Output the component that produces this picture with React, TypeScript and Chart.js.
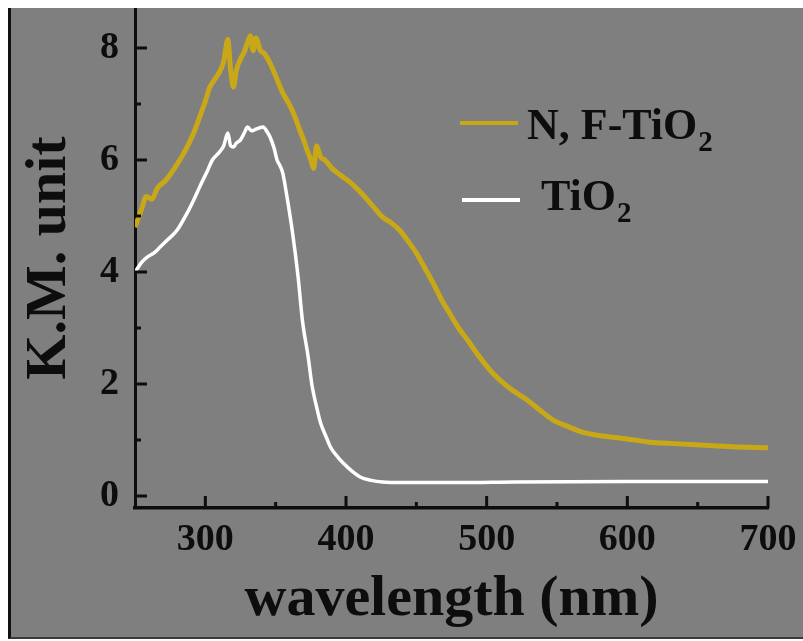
import React, { useEffect, useRef } from 'react';
import { Chart, registerables } from 'chart.js';

Chart.register(...registerables);

// ---- Data ----
const nfWavelengths = [
  250, 255, 258, 262, 266, 272, 278, 283, 287, 292, 296, 300, 303, 307, 310, 313, 316, 318, 320, 322,
  325, 328, 330, 332, 334, 336, 339, 342, 346, 350, 355, 360, 364, 367, 370, 372, 375, 377, 379, 382,
  385, 390, 395, 403, 412, 420, 426, 432, 438, 445, 450, 456, 462, 468, 474, 480, 486, 495, 504, 515,
  529, 538, 547, 558, 568, 580, 593, 605, 616, 630, 652, 675, 700,
];
const nfValues = [
  4.8, 5.15, 5.35, 5.3, 5.5, 5.64, 5.85, 6.05, 6.23, 6.5, 6.77, 7.05, 7.29, 7.45, 7.57, 7.75, 8.15, 7.6, 7.3, 7.6,
  7.8, 7.95, 8.1, 8.22, 7.95, 8.18, 7.96, 7.9, 7.73, 7.5, 7.2, 6.98, 6.75, 6.54, 6.35, 6.2, 6.0, 5.85, 6.25, 6.05,
  6.0, 5.85, 5.75, 5.6, 5.38, 5.15, 4.98, 4.88, 4.75, 4.52, 4.34, 4.07, 3.8, 3.5, 3.25, 3.0, 2.8, 2.48, 2.2, 1.95,
  1.71, 1.53, 1.36, 1.24, 1.14, 1.08, 1.04, 1.0, 0.96, 0.94, 0.91, 0.88, 0.86,
];
const tiWavelengths = [
  250, 255, 259, 264, 268, 273, 280, 287, 292, 296, 301, 305, 310, 313, 316, 318, 320, 322, 325, 328,
  330, 333, 335, 338, 341, 344, 346, 349, 351, 353, 355, 358, 362, 366, 369, 373, 376, 379, 382, 386,
  389, 394, 398, 404, 410, 418, 426, 440, 480, 520, 600, 700,
];
const tiValues = [
  4.0, 4.18, 4.27, 4.35, 4.45, 4.57, 4.75, 5.05, 5.3, 5.52, 5.78, 6.0, 6.14, 6.25, 6.48, 6.25, 6.23, 6.3, 6.36, 6.5,
  6.59, 6.52, 6.54, 6.57, 6.59, 6.5, 6.41, 6.2, 6.0, 5.9, 5.77, 5.35, 4.7, 3.9, 3.14, 2.5, 1.95, 1.6, 1.3, 1.05,
  0.87, 0.7, 0.59, 0.45, 0.34, 0.28, 0.25, 0.24, 0.24, 0.25, 0.26, 0.26,
];

const seriesLabels = ['N, F-TiO\u2082', 'TiO\u2082'];
const legendMainText = ['N, F-TiO', 'TiO'];
const legendSubText = ['2', '2'];

const xTickValues = [300, 400, 500, 600, 700];
const xMinorValues = [350, 450, 550, 650];
const yTickValues = [0, 2, 4, 6, 8];
const yMinorValues = [1, 3, 5, 7];

const xTitle = 'wavelength (nm)';
const yTitle = 'K.M. unit';

// ---- Styles ----
const FONT = "'Liberation Serif', 'Times New Roman', serif";
const YELLOW = '#c9a817';
const WHITE = '#ffffff';
const INK = '#0d0d0d';

const inwardTicks = {
  id: 'inwardTicks',
  afterDatasetsDraw(chart: any) {
    const { ctx, chartArea, scales } = chart;
    const xs = scales.x;
    const ys = scales.y;
    ctx.save();
    ctx.strokeStyle = INK;
    ctx.lineWidth = 3;
    const major = 12;
    const minor = 6;
    const drawX = (v: number, len: number) => {
      const px = xs.getPixelForValue(v);
      ctx.beginPath();
      ctx.moveTo(px, chartArea.bottom);
      ctx.lineTo(px, chartArea.bottom - len);
      ctx.stroke();
    };
    const drawY = (v: number, len: number) => {
      const py = ys.getPixelForValue(v);
      ctx.beginPath();
      ctx.moveTo(chartArea.left, py);
      ctx.lineTo(chartArea.left + len, py);
      ctx.stroke();
    };
    xTickValues.forEach((v) => drawX(v, major));
    xMinorValues.forEach((v) => drawX(v, minor));
    yTickValues.forEach((v) => drawY(v, major));
    yMinorValues.forEach((v) => drawY(v, minor));
    ctx.restore();
  },
};

const subLegend = {
  id: 'subLegend',
  afterDraw(chart: any, _args: any, opts: any) {
    const { ctx } = chart;
    const items = opts.items || [];
    ctx.save();
    items.forEach((it: any, i: number) => {
      const ds = chart.data.datasets[i];
      ctx.strokeStyle = ds.borderColor;
      ctx.lineWidth = 4;
      ctx.beginPath();
      ctx.moveTo(it.x0, it.lineY);
      ctx.lineTo(it.x1, it.lineY);
      ctx.stroke();
      ctx.fillStyle = INK;
      ctx.textBaseline = 'alphabetic';
      ctx.textAlign = 'left';
      ctx.font = `bold ${opts.size}px ${FONT}`;
      ctx.fillText(legendMainText[i], it.textX, it.baseY);
      const w = ctx.measureText(legendMainText[i]).width;
      ctx.font = `bold ${opts.subSize}px ${FONT}`;
      ctx.fillText(legendSubText[i], it.textX + w + 1, it.baseY + opts.subShift);
    });
    ctx.restore();
  },
};

export default function App() {
  const canvasRef = useRef<HTMLCanvasElement | null>(null);

  useEffect(() => {
    if (!canvasRef.current) return;
    const chart = new Chart(canvasRef.current, {
      type: 'line',
      data: {
        datasets: [
          {
            label: seriesLabels[0],
            data: nfWavelengths.map((x, i) => ({ x, y: nfValues[i] })),
            borderColor: YELLOW,
            borderWidth: 5,
            pointRadius: 0,
            cubicInterpolationMode: 'monotone',
            fill: false,
          },
          {
            label: seriesLabels[1],
            data: tiWavelengths.map((x, i) => ({ x, y: tiValues[i] })),
            borderColor: WHITE,
            borderWidth: 3.5,
            pointRadius: 0,
            cubicInterpolationMode: 'monotone',
            fill: false,
          },
        ],
      },
      options: {
        animation: false,
        responsive: false,
        layout: { padding: { top: 0, right: 35, left: 0, bottom: 0 } },
        plugins: {
          legend: { display: false },
          tooltip: { enabled: false },
          subLegend: {
            size: 44,
            subSize: 29,
            subShift: 12,
            items: [
              { x0: 449, x1: 507, lineY: 115, textX: 516, baseY: 131 },
              { x0: 451, x1: 509, lineY: 192, textX: 530, baseY: 202 },
            ],
          },
        } as any,
        scales: {
          x: {
            type: 'linear',
            min: 250,
            max: 700,
            afterBuildTicks: (s: any) => {
              s.ticks = xTickValues.map((v) => ({ value: v }));
            },
            afterFit: (s: any) => {
              s.height = 129;
              s.paddingLeft = 0;
              s.paddingRight = 0;
            },
            grid: { display: false },
            border: { display: true, color: INK, width: 3.5 },
            ticks: {
              color: INK,
              padding: 1,
              font: { family: FONT, size: 38, weight: 'bold' },
              maxRotation: 0,
              autoSkip: false,
            },
            title: {
              display: true,
              text: xTitle,
              color: INK,
              font: { family: FONT, size: 58, weight: 'bold', lineHeight: 1 },
              padding: { top: 0, bottom: 8 },
            },
          },
          y: {
            type: 'linear',
            min: -0.214,
            max: 8.714,
            afterBuildTicks: (s: any) => {
              s.ticks = yTickValues.map((v) => ({ value: v }));
            },
            afterFit: (s: any) => {
              s.width = 124;
              s.paddingTop = 0;
              s.paddingBottom = 0;
            },
            grid: { display: false },
            border: { display: true, color: INK, width: 3 },
            ticks: {
              color: INK,
              padding: 8,
              font: { family: FONT, size: 38, weight: 'bold' },
              autoSkip: false,
            },
            title: {
              display: true,
              text: yTitle,
              color: INK,
              font: { family: FONT, size: 58, weight: 'bold', lineHeight: 1 },
              padding: { top: 10, bottom: 0 },
            },
          },
        },
      } as any,
      plugins: [inwardTicks, subLegend],
    });
    return () => chart.destroy();
  }, []);

  return (
    <div
      style={{
        position: 'absolute',
        left: 8,
        top: 8,
        width: 795,
        height: 631,
        boxSizing: 'border-box',
        borderLeft: '3px solid #111',
        borderBottom: '2px solid #3a3a3a',
        background: '#7f7f7f',
      }}
    >
      <canvas ref={canvasRef} width={792} height={629} style={{ display: 'block' }} />
    </div>
  );
}
